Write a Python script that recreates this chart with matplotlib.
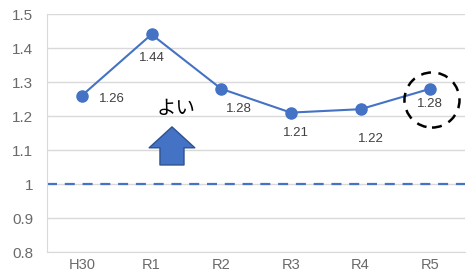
import numpy as np
import matplotlib
matplotlib.use("Agg")
import matplotlib.pyplot as plt
from matplotlib.patches import Ellipse

plt.rcParams['font.family'] = ['Liberation Sans', 'Noto Sans CJK JP', 'DejaVu Sans']

# donnees
annees = ["H30", "R1", "R2", "R3", "R4", "R5"]
valeurs = [1.26, 1.44, 1.28, 1.21, 1.22, 1.28]
y_ticks = [0.8, 0.9, 1.0, 1.1, 1.2, 1.3, 1.4, 1.5]
y_tick_labels = ["0.8", "0.9", "1", "1.1", "1.2", "1.3", "1.4", "1.5"]

bleu = "#4472C4"

fig = plt.figure(figsize=(4.66, 2.75), dpi=100)
ax = fig.add_axes([47/466, 23/275, 418/466, 238/275])

x = np.arange(len(annees))
ax.axhline(1.0, color=bleu, lw=1.6, ls=(0, (4.5, 3.5)), zorder=2)
ax.plot(x, valeurs, color=bleu, lw=1.5, marker='o', ms=8, zorder=3)

# decalages des etiquettes (en pixels)
decal = [(30, -3), (0, -24), (18, -20), (5, -20), (10, -30), (0, -15)]
for i, v in enumerate(valeurs):
    ax.annotate(f"{v:.2f}", (x[i], v), xytext=decal[i], textcoords='offset pixels',
                ha='center', va='center', fontsize=9.5, color='#404040')

# cercle en pointilles autour de R5
ax.add_patch(Ellipse((5.026, 1.247), 0.79, 0.162, fill=False, ec='black',
                     lw=1.8, ls=(0, (4, 3)), zorder=4))

# fleche et texte
ax.annotate('', xy=(1.294, 1.168), xytext=(1.294, 1.056),
            arrowprops=dict(arrowstyle='simple,head_width=1.9,head_length=0.87,tail_width=1.0',
                            mutation_scale=17.3, fc=bleu, ec='#2F528F', lw=1,
                            shrinkA=0, shrinkB=0))
ax.text(1.35, 1.2235, "よい", ha='center', va='center', fontsize=14,
        color='black', family=['Noto Sans CJK JP', 'DejaVu Sans'])

ax.set_xlim(-0.5, 5.5)
ax.set_ylim(0.8, 1.5)
ax.set_yticks(y_ticks)
ax.set_yticklabels(y_tick_labels)
ax.set_xticks(x)
ax.set_xticklabels(annees)
ax.grid(axis='y', color='#D9D9D9', lw=1, zorder=0)
ax.set_axisbelow(True)
for s in ['top', 'right']:
    ax.spines[s].set_visible(False)
for s in ['left', 'bottom']:
    ax.spines[s].set_color('#D9D9D9')
ax.tick_params(length=0, labelsize=11, colors='#6a6a6a')
ax.tick_params(axis='x', pad=4, labelsize=10.5)
ax.tick_params(axis='y', pad=10)

fig.savefig("out.png", dpi=100)
